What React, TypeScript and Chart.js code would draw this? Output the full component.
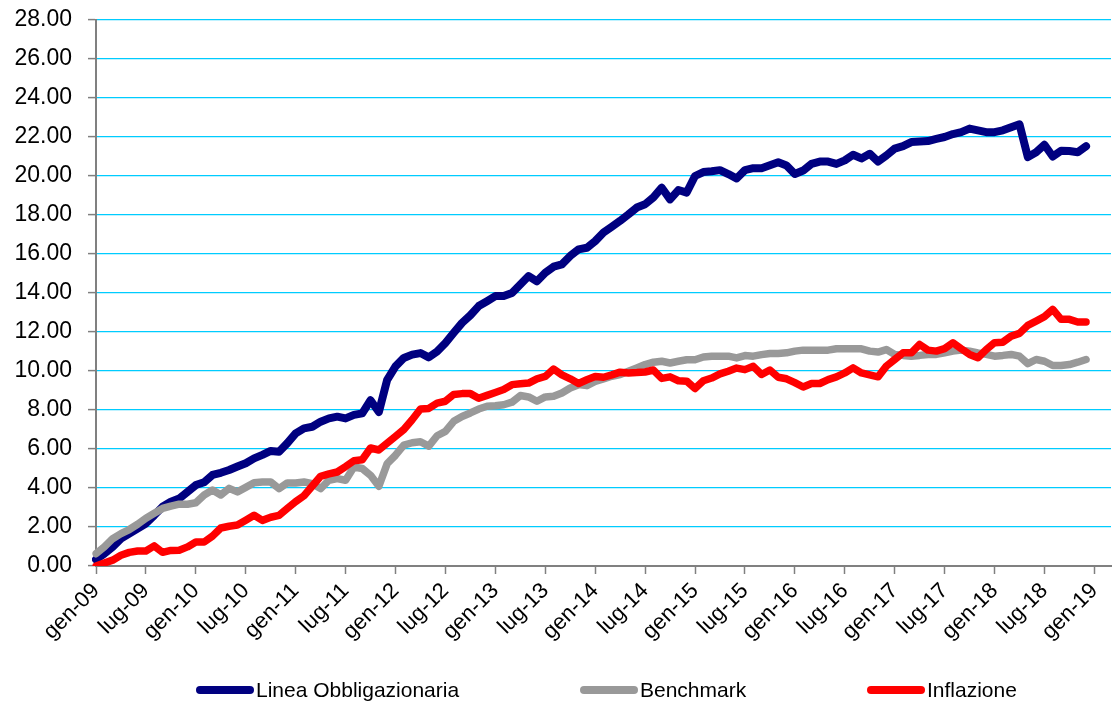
import React, { useEffect, useRef } from 'react';
import { Chart, registerables } from 'chart.js';
Chart.register(...registerables);

// Month names (Italian) used to build the monthly category axis
const monthNames = ['gen', 'feb', 'mar', 'apr', 'mag', 'giu', 'lug', 'ago', 'set', 'ott', 'nov', 'dic'];
const years = [2009, 2010, 2011, 2012, 2013, 2014, 2015, 2016, 2017, 2018, 2019];
const categories: string[] = [];
years.forEach((y) => monthNames.forEach((m) => categories.push(m + '-' + String(y % 100).padStart(2, '0'))));
const axisCategories = categories.slice(0, 123); // gen-09 .. mar-19

// Shown tick labels (every 6 months)
const tickLabels = [
  'gen-09', 'lug-09', 'gen-10', 'lug-10', 'gen-11', 'lug-11', 'gen-12', 'lug-12', 'gen-13', 'lug-13',
  'gen-14', 'lug-14', 'gen-15', 'lug-15', 'gen-16', 'lug-16', 'gen-17', 'lug-17', 'gen-18', 'lug-18', 'gen-19',
];

const yTicks = [0, 2, 4, 6, 8, 10, 12, 14, 16, 18, 20, 22, 24, 26, 28];

const lineaObbligazionaria = [
  0.33, 0.63, 0.98, 1.4, 1.66, 1.92, 2.18, 2.6, 3.04, 3.3,
  3.46, 3.8, 4.15, 4.3, 4.67, 4.78, 4.92, 5.1, 5.27, 5.52,
  5.7, 5.9, 5.86, 6.3, 6.8, 7.06, 7.14, 7.4, 7.57, 7.66,
  7.57, 7.75, 7.83, 8.5, 7.9, 9.55, 10.24, 10.67, 10.84, 10.92,
  10.7, 11.0, 11.44, 11.96, 12.47, 12.86, 13.33, 13.58, 13.84, 13.84,
  14.0, 14.44, 14.87, 14.6, 15.04, 15.35, 15.47, 15.9, 16.24, 16.32,
  16.66, 17.1, 17.4, 17.7, 18.03, 18.38, 18.55, 18.9, 19.4, 18.8,
  19.28, 19.15, 20.0, 20.2, 20.24, 20.3, 20.1, 19.87, 20.3, 20.4,
  20.4, 20.55, 20.7, 20.54, 20.1, 20.28, 20.62, 20.74, 20.74, 20.62,
  20.8, 21.09, 20.9, 21.14, 20.74, 21.05, 21.4, 21.53, 21.74, 21.77,
  21.79, 21.9, 22.0, 22.15, 22.25, 22.43, 22.34, 22.25, 22.25, 22.34,
  22.5, 22.65, 20.97, 21.22, 21.6, 21.0, 21.3, 21.28, 21.22, 21.53,
];

const benchmark = [
  0.63, 0.98, 1.4, 1.66, 1.87, 2.14, 2.45, 2.7, 2.95, 3.07,
  3.17, 3.17, 3.24, 3.64, 3.9, 3.64, 3.98, 3.8, 4.03, 4.27,
  4.31, 4.31, 3.97, 4.26, 4.26, 4.31, 4.22, 3.97, 4.4, 4.48,
  4.4, 5.08, 5.0, 4.65, 4.09, 5.25, 5.68, 6.2, 6.32, 6.37,
  6.15, 6.68, 6.9, 7.42, 7.67, 7.85, 8.05, 8.19, 8.22, 8.27,
  8.4, 8.74, 8.67, 8.45, 8.67, 8.7, 8.87, 9.13, 9.3, 9.25,
  9.47, 9.6, 9.73, 9.82, 9.99, 10.16, 10.33, 10.45, 10.5, 10.41,
  10.5, 10.58, 10.58, 10.72, 10.76, 10.76, 10.76, 10.67, 10.79, 10.76,
  10.84, 10.9, 10.9, 10.93, 11.02, 11.07, 11.07, 11.07, 11.07, 11.14,
  11.14, 11.14, 11.14, 11.02, 10.97, 11.1, 10.85, 10.8, 10.76, 10.8,
  10.85, 10.85, 10.93, 11.02, 11.07, 11.02, 10.93, 10.85, 10.76, 10.8,
  10.85, 10.76, 10.38, 10.59, 10.5, 10.28, 10.28, 10.33, 10.45, 10.59,
];

const inflazione = [
  0.0, 0.15, 0.3, 0.55, 0.7, 0.77, 0.77, 1.03, 0.7, 0.8,
  0.81, 0.98, 1.23, 1.23, 1.53, 1.95, 2.04, 2.1, 2.35, 2.6,
  2.34, 2.5, 2.6, 2.95, 3.3, 3.6, 4.1, 4.6, 4.72, 4.82,
  5.1, 5.4, 5.45, 6.05, 5.95, 6.3, 6.65, 7.0, 7.5, 8.05,
  8.08, 8.35, 8.45, 8.8, 8.84, 8.84, 8.6, 8.75, 8.9, 9.05,
  9.3, 9.35, 9.38, 9.6, 9.72, 10.1, 9.8, 9.6, 9.36, 9.55,
  9.72, 9.68, 9.8, 9.94, 9.9, 9.92, 9.95, 10.05, 9.62, 9.7,
  9.5, 9.48, 9.1, 9.5, 9.64, 9.85, 9.99, 10.15, 10.07, 10.24,
  9.82, 10.05, 9.68, 9.6, 9.4, 9.18, 9.36, 9.36, 9.56, 9.7,
  9.9, 10.16, 9.9, 9.8, 9.7, 10.25, 10.59, 10.93, 10.93, 11.36,
  11.07, 11.02, 11.15, 11.45, 11.14, 10.85, 10.68, 11.1, 11.45, 11.48,
  11.79, 11.93, 12.34, 12.56, 12.79, 13.16, 12.65, 12.65, 12.51, 12.51,
];

const seriesNames = ['Linea Obbligazionaria', 'Benchmark', 'Inflazione'];
const seriesColors = ['#000080', '#999999', '#FF0000'];
const seriesData = [lineaObbligazionaria, benchmark, inflazione];

const legendLeft = [196, 580, 867];
const FONT = '"Liberation Sans", Arial, sans-serif';

export default function App() {
  const canvasRef = useRef<HTMLCanvasElement | null>(null);

  useEffect(() => {
    document.body.style.margin = '0';
    const canvas = canvasRef.current;
    if (!canvas) return;
    const chart = new Chart(canvas, {
      type: 'line',
      data: {
        labels: axisCategories,
        datasets: seriesNames.map((name, i) => ({
          label: name,
          data: seriesData[i],
          borderColor: seriesColors[i],
          backgroundColor: seriesColors[i],
          borderWidth: i === 0 ? 8 : 7.5,
          pointRadius: 0,
          pointHoverRadius: 0,
          tension: 0,
          fill: false,
          borderJoinStyle: 'round' as const,
          borderCapStyle: 'round' as const,
          order: 3 - i,
        })),
      },
      options: {
        responsive: false,
        animation: false,
        layout: { padding: { top: 20, right: 7, bottom: 40, left: 0 } },
        plugins: {
          legend: { display: false },
          tooltip: { enabled: false },
        },
        scales: {
          x: {
            type: 'category',
            offset: false,
            grid: {
              display: true,
              drawOnChartArea: false,
              drawTicks: true,
              tickLength: 8,
              tickColor: '#808080',
              tickWidth: 1.5,
            },
            border: { color: '#808080', width: 2 },
            ticks: {
              autoSkip: false,
              minRotation: 45,
              maxRotation: 45,
              padding: 4,
              color: '#000000',
              font: { family: FONT, size: 22 },
              callback: (_v: any, idx: number) => {
                const lab = axisCategories[idx];
                return tickLabels.includes(lab) ? lab : null;
              },
            },
            afterFit: (scale: any) => {
              scale.height = 97;
              scale.paddingLeft = 0;
              scale.paddingRight = 0;
            },
          },
          y: {
            min: 0,
            max: 28,
            afterBuildTicks: (scale: any) => {
              scale.ticks = yTicks.map((v) => ({ value: v }));
            },
            grid: {
              color: '#00CCFF',
              lineWidth: 1.2,
              drawTicks: true,
              tickLength: 8,
              tickColor: '#808080',
              tickWidth: 1.5,
            },
            border: { color: '#808080', width: 2 },
            ticks: {
              padding: 16,
              color: '#000000',
              font: { family: FONT, size: 23 },
              callback: (v: any) => Number(v).toFixed(2),
            },
            afterFit: (scale: any) => {
              scale.width = 96;
              scale.paddingTop = 0;
              scale.paddingBottom = 0;
            },
          },
        },
      },
    });
    return () => chart.destroy();
  }, []);

  return (
    <div style={{ position: 'relative', width: 1118, height: 703, background: '#fff', overflow: 'hidden' }}>
      <canvas ref={canvasRef} width={1118} height={703} style={{ display: 'block', width: 1118, height: 703 }} />
      {seriesNames.map((name, i) => (
        <div
          key={name}
          style={{
            position: 'absolute',
            left: legendLeft[i],
            top: 676,
            height: 28,
            display: 'flex',
            alignItems: 'center',
            fontFamily: FONT,
            fontSize: 21,
            color: '#000',
            whiteSpace: 'nowrap',
          }}
        >
          <span
            style={{
              display: 'inline-block',
              width: 58,
              height: 8,
              borderRadius: 4,
              background: seriesColors[i],
              marginRight: 2,
            }}
          />
          <span>{name}</span>
        </div>
      ))}
    </div>
  );
}
